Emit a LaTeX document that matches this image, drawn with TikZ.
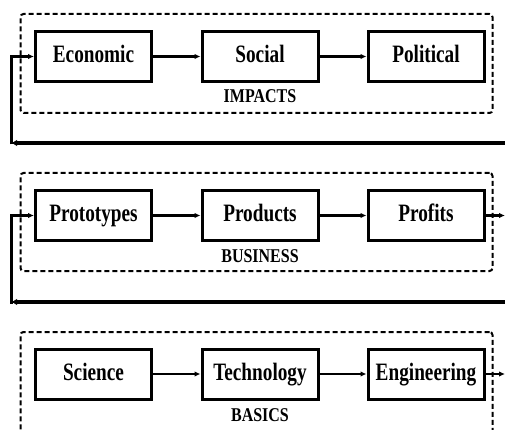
\documentclass[tikz,border=0pt]{standalone}
\usepackage{fontspec}
\usepackage{graphicx}
\setmainfont{Liberation Serif}
\usetikzlibrary{arrows.meta}
\newcommand\boxtxt[1]{\scalebox{0.77}[1]{#1}}
\newcommand\labtxt[1]{\scalebox{0.82}[1]{#1}}
\tikzset{
  stepbox/.style={draw, line width=3pt, minimum width=116pt, minimum height=50pt, inner sep=0pt,
    text height=17pt, text depth=5pt,
    font=\fontsize{25}{25}\selectfont\bfseries},
  grp/.style={draw, line width=2pt, dash pattern=on 5pt off 3pt, rounded corners=3pt,
    minimum width=472pt, inner sep=0pt},
  grplab/.style={font=\fontsize{19.5}{20}\selectfont\bfseries, inner sep=0pt},
  arr/.style={line width=2.4pt, -{Latex[length=6pt,width=5.5pt]}},
  fbarr/.style={line width=3.4pt, -{Latex[length=6pt,width=6.5pt]}}
}
\begin{document}
\begin{tikzpicture}[x=1pt,y=-1pt]
\clip (0,0) rectangle (505,430);
% group frames
\node[grp, minimum height=99pt] (g1) at (256.5,63.5) {};
\node[grp, minimum height=98pt] (g2) at (256.5,222) {};
\node[grp, minimum height=130pt] (g3) at (256.5,397) {};
% top row
\node[stepbox] (eco) at (93.5,56.5) {\boxtxt{Economic}};
\node[stepbox] (soc) at (260,56.5) {\boxtxt{Social}};
\node[stepbox] (pol) at (426,56.5) {\boxtxt{Political}};
\node[grplab] (l1) at (260,96) {\labtxt{IMPACTS}};
% middle row
\node[stepbox] (pt) at (93.5,215.5) {\boxtxt{Prototypes}};
\node[stepbox] (pd) at (260,215.5) {\boxtxt{Products}};
\node[stepbox] (pf) at (426,215.5) {\boxtxt{Profits}};
\node[grplab] (l2) at (260,256) {\labtxt{BUSINESS}};
% bottom row
\node[stepbox] (sc) at (93.5,374) {\boxtxt{Science}};
\node[stepbox] (te) at (260,374) {\boxtxt{Technology}};
\node[stepbox] (en) at (426,374) {\boxtxt{Engineering}};
\node[grplab] (l3) at (260,415) {\labtxt{BASICS}};
% arrows
\draw[arr] (eco) -- (soc);
\draw[arr] (soc) -- (pol);
\draw[arr] (pt) -- (pd);
\draw[arr] (pd) -- (pf);
\draw[arr] (sc) -- (te);
\draw[arr] (te) -- (en);
% outgoing
\coordinate (o2) at (505,215.5);
\coordinate (o3) at (505,374);
\draw[arr] (pf.east) -- (o2);
\draw[arr] (en.east) -- (o3);
% feedback lines
\coordinate (r1) at (505,143);
\coordinate (c1) at (11,143);
\coordinate (v1) at (11.5,144.5);
\draw[fbarr] (r1) -- (c1);
\draw[arr] (v1) |- (eco.west);
\coordinate (r2) at (505,302);
\coordinate (c2) at (11,302);
\coordinate (v2) at (11.5,303.5);
\draw[fbarr] (r2) -- (c2);
\draw[arr] (v2) |- (pt.west);
\end{tikzpicture}
\end{document}
